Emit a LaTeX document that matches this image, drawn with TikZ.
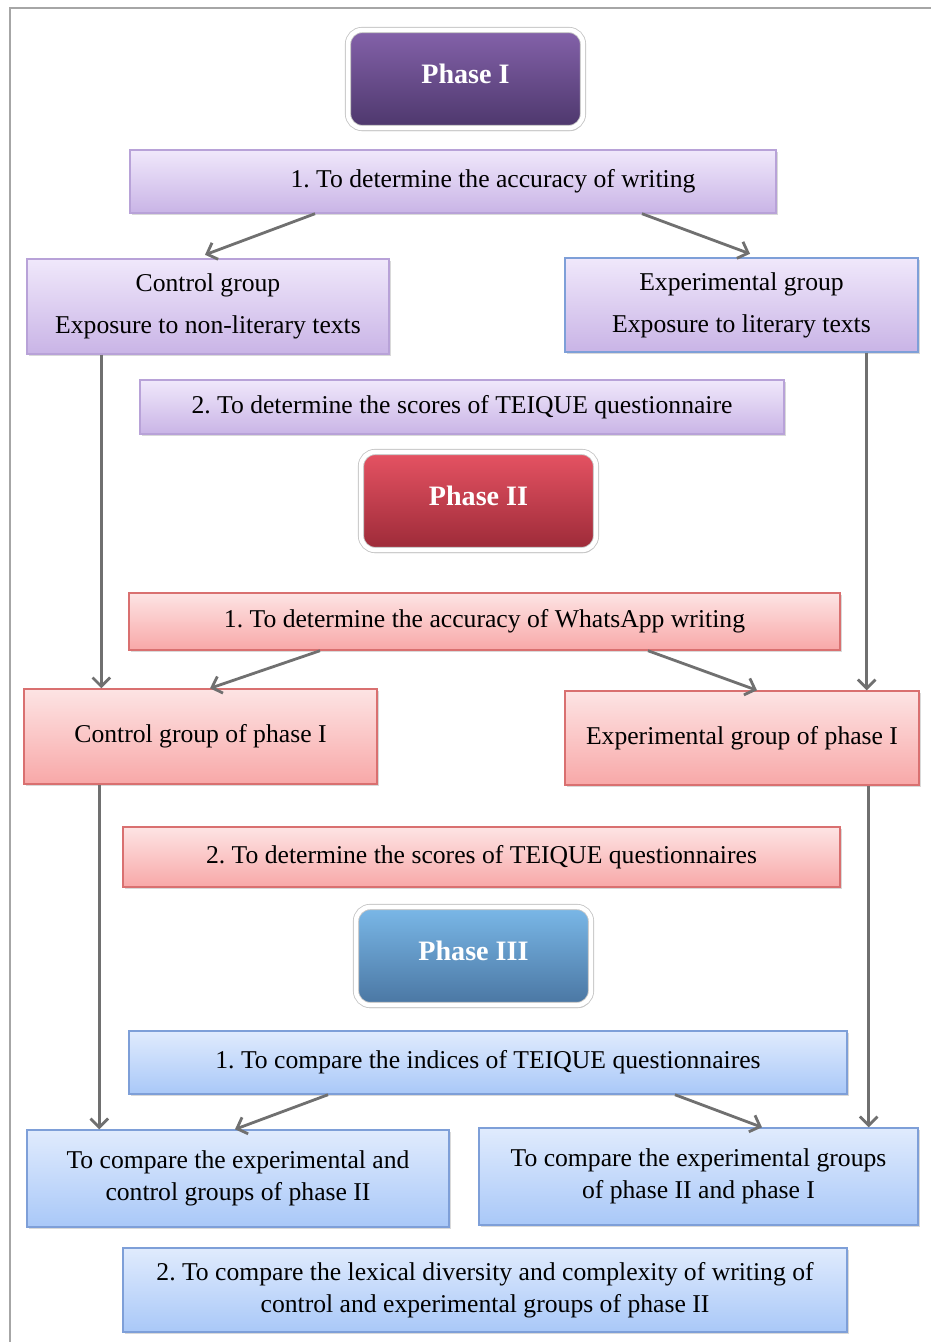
\documentclass[tikz,border=0pt]{standalone}
\usepackage{fontspec}
\setmainfont{Liberation Serif}
\usepackage{tikz}
\usetikzlibrary{calc,shadows,arrows.meta}
\usepackage{xcolor}
\frenchspacing
\definecolor{phAtop}{HTML}{8462AA}
\definecolor{phAbot}{HTML}{4D376C}
\definecolor{phBtop}{HTML}{E65363}
\definecolor{phBbot}{HTML}{9C2A38}
\definecolor{phCtop}{HTML}{7AB8E8}
\definecolor{phCbot}{HTML}{4A76A2}
\definecolor{lavtop}{HTML}{F0E8FB}
\definecolor{lavbot}{HTML}{C9B4E6}
\definecolor{lavline}{HTML}{B8A2D8}
\definecolor{pinktop}{HTML}{FDE4E4}
\definecolor{pinkbot}{HTML}{F8A8A8}
\definecolor{pinkline}{HTML}{D97070}
\definecolor{bluetop}{HTML}{E0EBFD}
\definecolor{bluebot}{HTML}{A9C8F8}
\definecolor{blueline}{HTML}{7E9FD8}
\definecolor{arrgray}{HTML}{707070}

\begin{document}
\begin{tikzpicture}[x=0.02cm, y=-0.02cm,
  phase/.style={rounded corners=8pt, minimum width=4.7cm, minimum height=1.96cm,
    draw=gray!45, line width=0.5pt, double=white, double distance=2.5pt,
    text=white, font=\fontsize{16}{19}\selectfont\bfseries,
    drop shadow={shadow xshift=0.6pt, shadow yshift=-1.8pt, opacity=0.4}},
  tbox/.style={draw, line width=0.8pt, align=center, inner sep=2pt,
    font=\fontsize{14.6}{18}\selectfont,
    drop shadow={shadow xshift=1pt, shadow yshift=-1pt, opacity=0.3}},
  lav/.style={tbox, draw=lavline, top color=lavtop, bottom color=lavbot},
  pink/.style={tbox, draw=pinkline, top color=pinktop, bottom color=pinkbot},
  blue/.style={tbox, draw=blueline, top color=bluetop, bottom color=bluebot},
  arr/.style={draw=arrgray, line width=1.6pt, -{Straight Barb[length=5pt, width=10pt]}}]
\useasboundingbox (0,0) rectangle (931,1342);
\draw [gray!70, line width=1.6pt] (10,1342) -- (10,8) -- (931,8);

% phase I
\node [phase, top color=phAtop, bottom color=phAbot] (ph1) at (465.5,79) {\raisebox{6.5pt}{Phase I}};
\node [lav, minimum width=12.92cm, minimum height=1.26cm] (a1) at (453,181.5) {\hspace*{1.6cm}1. To determine the accuracy of writing};
\node [lav, minimum width=7.24cm, minimum height=1.9cm] (cg) at (208,306.5) {Control group\\[6pt]Exposure to non-literary texts};
\node [lav, draw=blueline, minimum width=7.06cm, minimum height=1.88cm] (eg) at (741.5,305) {Experimental group\\[6pt]Exposure to literary texts};
\node [lav, minimum width=12.88cm, minimum height=1.08cm] (a2) at (462,407) {2. To determine the scores of TEIQUE questionnaire};

% phase II
\node [phase, top color=phBtop, bottom color=phBbot] (ph2) at (478.5,501) {\raisebox{6.5pt}{Phase II}};
\node [pink, minimum width=14.22cm, minimum height=1.14cm] (b1) at (484.5,621.5) {1. To determine the accuracy of WhatsApp writing};
\node [pink, minimum width=7.06cm, minimum height=1.9cm] (cg1) at (200.5,736.5) {Control group of phase I};
\node [pink, minimum width=7.08cm, minimum height=1.88cm] (eg1) at (742,738) {Experimental group of phase I};
\node [pink, minimum width=14.34cm, minimum height=1.2cm] (b2) at (481.5,857) {2. To determine the scores of TEIQUE questionnaires};

% phase III
\node [phase, top color=phCtop, bottom color=phCbot] (ph3) at (473.5,956) {\raisebox{6.5pt}{Phase III}};
\node [blue, minimum width=14.36cm, minimum height=1.26cm] (c1) at (488,1062.5) {1. To compare the indices of TEIQUE questionnaires};
\node [blue, minimum width=8.44cm, minimum height=1.94cm] (ca) at (238,1178.5) {To compare the experimental and\\control groups of phase II};
\node [blue, minimum width=8.78cm, minimum height=1.94cm] (cb) at (698.5,1176.5) {To compare the experimental groups\\of phase II and phase I};
\node [blue, minimum width=14.48cm, minimum height=1.68cm] (c2) at (485,1290) {2. To compare the lexical diversity and complexity of writing of\\control and experimental groups of phase II};

% arrows
\draw [arr] ([xshift=-2.76cm]a1.south) -- ([xshift=-0.06cm,yshift=2pt]cg.north);
\draw [arr] ([xshift=3.78cm]a1.south) -- ([xshift=0.17cm,yshift=2pt]eg.north);
\draw [arr] ([xshift=1.5cm]cg.south west) -- ([xshift=1.5cm]cg.south west |- cg1.north);
\draw [arr] ([xshift=-1.04cm]eg.south east) -- ([xshift=-1.04cm]eg.south east |- eg1.north);
\draw [arr] ([xshift=-3.29cm]b1.south) -- ([xshift=0.19cm]cg1.north);
\draw [arr] ([xshift=3.27cm]b1.south) -- ([xshift=0.3cm]eg1.north);
\draw [arr] ([xshift=1.52cm]cg1.south west) -- ([xshift=1.52cm]cg1.south west |- ca.north);
\draw [arr] ([xshift=-1.02cm]eg1.south east) -- ([xshift=-1.02cm]eg1.south east |- cb.north);
\draw [arr] ([xshift=-3.2cm]c1.south) -- ([xshift=-0.06cm]ca.north);
\draw [arr] ([xshift=3.74cm]c1.south) -- ([xshift=1.27cm]cb.north);
\end{tikzpicture}
\end{document}
